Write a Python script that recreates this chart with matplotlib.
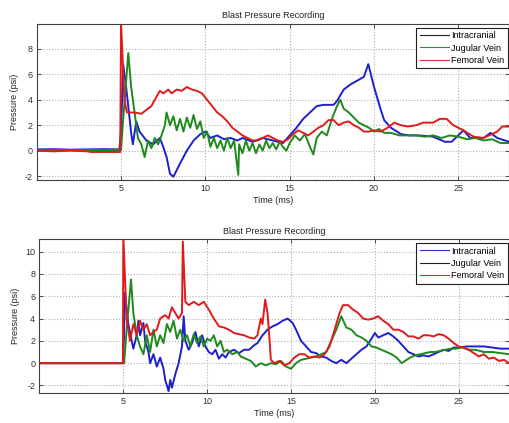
import matplotlib
matplotlib.use('Agg')
import matplotlib.pyplot as plt

plt.rcParams['font.family'] = ['Liberation Sans', 'DejaVu Sans']
plt.rcParams['font.size'] = 6.5
plt.rcParams['axes.unicode_minus'] = False

# top recording
t_ic1 = [0, 1, 2, 3, 4, 4.9, 5.0, 5.13, 5.3, 5.6, 5.7, 5.9, 6.1, 6.5, 6.9, 7.3, 7.5, 7.7, 7.9, 8.1,
         8.5, 8.9, 9.3, 9.7, 10.0, 10.3, 10.7, 11.1, 11.5, 11.9, 12.2, 12.8, 13.4, 14.0, 14.6, 15.0,
         15.4, 15.8, 16.2, 16.6, 17.0, 17.6, 17.8, 18.2, 18.6, 19.0, 19.4, 19.66, 20.0, 20.4, 20.6,
         21.0, 21.6, 22.1, 22.7, 23.5, 24.2, 24.6, 25.3, 25.7, 26.5, 26.9, 27.3, 28.0]
v_ic1 = [0.1, 0.12, 0.08, 0.1, 0.12, 0.1, 1.5, 6.75, 5.0, 1.4, 0.5, 2.3, 1.5, 0.8, 0.5, 1.0, 0.3, -0.5,
         -1.8, -2.05, -1.0, 0.0, 0.8, 1.3, 1.5, 1.0, 1.2, 0.9, 1.0, 0.8, 1.0, 0.7, 1.0, 0.8, 0.6, 1.2,
         1.8, 2.5, 3.0, 3.5, 3.6, 3.6, 3.9, 4.8, 5.2, 5.5, 5.8, 6.8, 5.0, 3.2, 2.4, 1.8, 1.3, 1.2, 1.2,
         1.1, 0.7, 0.7, 1.6, 1.0, 1.0, 1.4, 1.0, 0.7]

t_jv1 = [0, 2, 4, 5.0, 5.1, 5.43, 5.6, 5.8, 6.0, 6.2, 6.4, 6.6, 6.8, 7.0, 7.2, 7.4, 7.6, 7.7, 7.9, 8.1,
         8.3, 8.5, 8.7, 8.9, 9.1, 9.3, 9.5, 9.7, 9.9, 10.1, 10.3, 10.5, 10.7, 10.9, 11.1, 11.3, 11.5,
         11.7, 11.95, 12.0, 12.2, 12.4, 12.6, 12.8, 13.0, 13.2, 13.4, 13.6, 13.8, 14.0, 14.2, 14.4,
         14.6, 14.8, 15.0, 15.3, 15.6, 15.9, 16.2, 16.4, 16.6, 16.9, 17.2, 17.5, 17.8, 18.0, 18.2,
         18.5, 18.8, 19.1, 19.4, 19.7, 20.0, 20.3, 20.6, 21.0, 21.5, 22.0, 22.5, 23.0, 23.5, 24.0,
         24.5, 25.0, 25.5, 26.0, 26.5, 27.0, 27.5, 28.0]
v_jv1 = [0.05, 0.05, 0.05, 0.05, 2.0, 7.67, 5.0, 3.0, 1.0, 0.5, -0.5, 0.8, 0.2, 1.0, 0.5, 1.2, 2.0,
         3.0, 2.0, 2.7, 1.6, 2.5, 1.5, 2.6, 1.8, 2.8, 1.7, 2.3, 1.0, 1.5, 0.3, 1.0, 0.2, 0.8, 0.0,
         1.0, 0.2, 0.8, -1.9, 0.5, -0.2, 0.8, 0.0, 0.6, -0.2, 0.5, 0.0, 0.8, 0.2, 0.6, 0.1, 0.7, 0.3,
         0.0, 0.6, 1.2, 0.8, 1.3, 0.3, -0.3, 1.0, 1.5, 1.2, 2.5, 3.5, 4.0, 3.3, 3.0, 2.6, 2.2, 2.0,
         1.8, 1.5, 1.7, 1.4, 1.4, 1.2, 1.2, 1.2, 1.1, 1.2, 1.0, 1.2, 1.1, 0.9, 1.0, 0.8, 0.9, 0.6,
         0.6]

t_fv1 = [0, 1, 2, 3, 3.2, 4, 4.95, 5.0, 5.1, 5.2, 5.35, 5.8, 6.2, 6.5, 6.8, 7.0, 7.3, 7.5, 7.8, 8.0,
         8.3, 8.6, 8.9, 9.2, 9.5, 9.8, 10.1, 10.4, 10.7, 11.0, 11.3, 11.6, 11.9, 12.2, 12.5, 12.8,
         13.1, 13.4, 13.7, 14.0, 14.3, 14.6, 14.9, 15.2, 15.5, 15.8, 16.1, 16.4, 16.7, 17.0, 17.3,
         17.6, 17.9, 18.2, 18.5, 18.8, 19.1, 19.4, 19.7, 20.0, 20.4, 20.8, 21.2, 21.6, 22.0, 22.5,
         22.9, 23.5, 23.9, 24.3, 24.7, 25.3, 25.9, 26.5, 27.3, 27.6, 28.0]
v_fv1 = [0.0, -0.05, 0.0, -0.05, -0.1, -0.1, -0.1, 10.0, 7.0, 4.0, 3.0, 3.0, 2.9, 3.2, 3.5, 4.0, 4.7,
         4.5, 4.8, 4.5, 4.8, 4.7, 5.0, 4.8, 4.7, 4.5, 4.0, 3.5, 3.0, 2.7, 2.3, 1.8, 1.5, 1.2, 1.0,
         0.8, 0.8, 1.0, 1.2, 1.0, 0.8, 0.7, 0.9, 1.3, 1.6, 1.4, 1.2, 1.5, 1.8, 2.0, 2.4, 2.4, 2.0,
         2.2, 2.3, 2.0, 1.8, 1.5, 1.5, 1.6, 1.5, 1.8, 2.2, 2.0, 1.9, 2.0, 2.2, 2.2, 2.5, 2.5, 2.0,
         1.6, 1.1, 1.0, 1.5, 1.9, 1.9]

# bottom recording
t_ic2 = [0, 2, 4, 5.0, 5.1, 5.3, 5.5, 5.6, 5.8, 5.9, 6.0, 6.2, 6.3, 6.5, 6.6, 6.8, 7.0, 7.2, 7.4, 7.5,
         7.7, 7.8, 7.9, 8.1, 8.3, 8.5, 8.6, 8.7, 8.9, 9.1, 9.3, 9.5, 9.7, 9.9, 10.1, 10.3, 10.5, 10.7,
         10.9, 11.1, 11.3, 11.6, 11.9, 12.2, 12.5, 12.8, 13.0, 13.3, 13.6, 13.9, 14.2, 14.5, 14.8,
         15.1, 15.3, 15.6, 15.9, 16.2, 16.5, 16.8, 17.1, 17.4, 17.7, 18.0, 18.3, 18.6, 18.9, 19.2,
         19.5, 19.8, 20.0, 20.2, 20.5, 20.8, 21.1, 21.4, 21.7, 22.0, 22.3, 22.6, 22.9, 23.2, 23.5,
         23.8, 24.1, 24.4, 24.7, 25.0, 25.5, 26.0, 26.5, 27.0, 27.5, 28.0]
v_ic2 = [0.0, 0.0, 0.0, 0.0, 6.3, 3.5, 2.0, 1.3, 2.5, 3.8, 2.5, 3.6, 2.0, 1.0, 0.0, 0.8, -0.3, 0.5,
         -0.5, -1.5, -2.5, -1.5, -2.2, -1.0, 0.0, 1.5, 4.2, 2.0, 1.2, 1.8, 2.8, 1.5, 2.5, 1.5, 1.0,
         0.8, 1.2, 0.4, 0.8, 0.5, 1.0, 1.2, 0.9, 1.2, 1.2, 1.6, 1.8, 2.5, 3.0, 3.3, 3.5, 3.8, 4.0,
         3.6, 3.0, 2.0, 1.5, 1.0, 0.9, 0.6, 0.5, 0.2, 0.0, 0.3, 0.0, 0.4, 0.8, 1.2, 1.5, 2.2, 2.7,
         2.3, 2.5, 2.7, 2.4, 2.0, 1.5, 1.0, 0.8, 0.6, 0.7, 0.6, 0.8, 1.0, 1.2, 1.1, 1.4, 1.4, 1.5,
         1.5, 1.5, 1.4, 1.3, 1.3]

t_jv2 = [0, 2, 4, 5.05, 5.2, 5.46, 5.6, 5.8, 6.0, 6.2, 6.4, 6.6, 6.8, 7.0, 7.2, 7.4, 7.6, 7.8, 8.0,
         8.2, 8.4, 8.6, 8.8, 9.0, 9.2, 9.4, 9.6, 9.8, 10.0, 10.2, 10.4, 10.6, 10.8, 11.0, 11.2, 11.5,
         11.8, 12.0, 12.3, 12.6, 12.9, 13.2, 13.5, 13.8, 14.1, 14.4, 14.7, 15.0, 15.3, 15.6, 15.9,
         16.2, 16.5, 16.8, 17.1, 17.4, 17.7, 18.0, 18.3, 18.6, 18.9, 19.2, 19.5, 19.8, 20.1, 20.4,
         20.7, 21.0, 21.3, 21.6, 21.8, 22.1, 22.4, 22.7, 23.0, 23.3, 23.6, 23.9, 24.2, 24.5, 24.8,
         25.2, 25.6, 26.0, 26.5, 27.0, 27.5, 28.0]
v_jv2 = [0.0, 0.0, 0.0, 0.0, 3.0, 7.5, 4.5, 2.5, 1.5, 0.8, 2.5, 1.0, 3.0, 1.5, 2.5, 1.8, 3.5, 2.8,
         3.8, 2.2, 3.0, 2.0, 2.5, 1.5, 2.6, 1.8, 2.4, 1.5, 2.2, 2.0, 2.5, 1.5, 2.0, 1.0, 1.2, 0.8,
         1.0, 0.6, 0.4, 0.2, -0.3, 0.0, -0.2, 0.0, -0.1, 0.2, -0.3, -0.5, 0.0, 0.3, 0.4, 0.5, 0.6,
         0.8, 1.0, 2.0, 3.0, 4.2, 3.2, 3.0, 2.5, 2.3, 2.0, 1.5, 1.4, 1.2, 1.0, 0.8, 0.5, 0.0, 0.2,
         0.5, 0.7, 0.8, 0.9, 1.0, 1.0, 1.1, 1.2, 1.3, 1.3, 1.4, 1.2, 1.2, 1.0, 1.0, 0.9, 0.8]

t_fv2 = [0, 2, 4, 4.98, 5.0, 5.2, 5.4, 5.6, 5.8, 6.0, 6.2, 6.4, 6.6, 6.8, 7.0, 7.2, 7.5, 7.7, 7.9, 8.1,
         8.3, 8.5, 8.55, 8.7, 8.9, 9.2, 9.5, 9.8, 10.1, 10.4, 10.7, 11.0, 11.3, 11.6, 11.9, 12.2,
         12.5, 12.8, 13.0, 13.2, 13.3, 13.46, 13.6, 13.7, 13.8, 14.0, 14.3, 14.6, 14.9, 15.2, 15.5,
         15.8, 16.1, 16.4, 16.7, 17.0, 17.3, 17.6, 17.9, 18.1, 18.4, 18.7, 19.0, 19.3, 19.6, 19.9,
         20.2, 20.5, 20.8, 21.1, 21.4, 21.7, 22.0, 22.3, 22.6, 22.9, 23.2, 23.5, 23.8, 24.1, 24.4,
         24.7, 25.0, 25.3, 25.6, 25.9, 26.2, 26.5, 26.8, 27.1, 27.4, 27.7, 28.0]
v_fv2 = [0.0, 0.0, 0.0, 0.0, 11.5, 4.0, 2.0, 3.5, 2.5, 3.8, 3.0, 3.5, 2.5, 2.8, 3.0, 4.0, 4.3, 4.0,
         5.0, 4.5, 4.0, 4.5, 10.9, 5.5, 5.2, 5.5, 5.2, 5.5, 4.8, 4.0, 3.3, 3.2, 3.0, 2.7, 2.6, 2.5,
         2.3, 2.2, 2.5, 4.0, 3.5, 5.7, 4.5, 2.5, 0.3, 0.0, 0.2, -0.2, 0.0, 0.5, 0.8, 0.8, 0.5, 0.6,
         0.5, 0.8, 1.5, 3.0, 4.5, 5.2, 5.2, 4.8, 4.5, 4.0, 3.9, 4.0, 4.2, 3.8, 3.5, 3.0, 3.0, 2.8,
         2.4, 2.4, 2.2, 2.5, 2.5, 2.4, 2.6, 2.5, 2.2, 1.8, 1.5, 1.4, 1.2, 0.9, 0.6, 0.8, 0.4, 0.5,
         0.2, 0.3, 0.0]

names = ['Intracranial', 'Jugular Vein', 'Femoral Vein']
line_colors = ['#1f1fd0', '#1e8a1e', '#e01b1b']
legend_colors_top = ['#202020', '#3a8a3a', '#d03030']
legend_colors_bottom = ['#3030c0', '#202020', '#c03040']


def DrawPanel(ax, series, ylim, yticks, legend_colors, anchor):
    handles = []
    for (t, v), name, color in zip(series, names, line_colors):
        h, = ax.plot(t, v, color=color, linewidth=1.4, label=name)
        handles.append(h)

    ax.set_xlim(0, 28)
    ax.set_ylim(*ylim)
    ax.set_xticks([5, 10, 15, 20, 25])
    ax.set_yticks(yticks)
    ax.grid(True, linestyle=':', color='#b0b0b0', linewidth=0.8)
    ax.tick_params(direction='in', top=True, right=True, length=3, width=0.6, pad=3,
                   labelsize=6.5, colors='#333333')
    for spine in ax.spines.values():
        spine.set_color('#404040')
        spine.set_linewidth(0.8)

    ax.set_title('Blast Pressure Recording', fontsize=6.5, pad=4, color='#222222')
    ax.set_xlabel('Time (ms)', fontsize=6.5, labelpad=2, color='#222222')
    ax.set_ylabel('Pressure (psi)', fontsize=6.5, labelpad=4, color='#222222')

    leg = ax.legend(handles=handles, loc='upper right', bbox_to_anchor=anchor,
                    borderaxespad=0, fancybox=False, framealpha=1, edgecolor='#202020',
                    fontsize=6.5, handlelength=3.2, handletextpad=0.3, labelspacing=0.35,
                    borderpad=0.4)
    leg.get_frame().set_linewidth(0.8)
    for line, color in zip(leg.get_lines(), legend_colors):
        line.set_color(color)
        line.set_linewidth(0.8)


fig = plt.figure(figsize=(5.10, 4.23), dpi=100)

ax1 = fig.add_axes([0.072, 0.5745, 0.926, 0.3688])
DrawPanel(ax1, [(t_ic1, v_ic1), (t_jv1, v_jv1), (t_fv1, v_fv1)],
          (-2.3, 9.95), [-2, 0, 2, 4, 6, 8], legend_colors_top, (0.998, 0.975))

ax2 = fig.add_axes([0.0773, 0.0702, 0.9208, 0.3641])
DrawPanel(ax2, [(t_ic2, v_ic2), (t_jv2, v_jv2), (t_fv2, v_fv2)],
          (-2.7, 11.1), [-2, 0, 2, 4, 6, 8, 10], legend_colors_bottom, (0.998, 0.976))

fig.savefig('out.png', dpi=100)
